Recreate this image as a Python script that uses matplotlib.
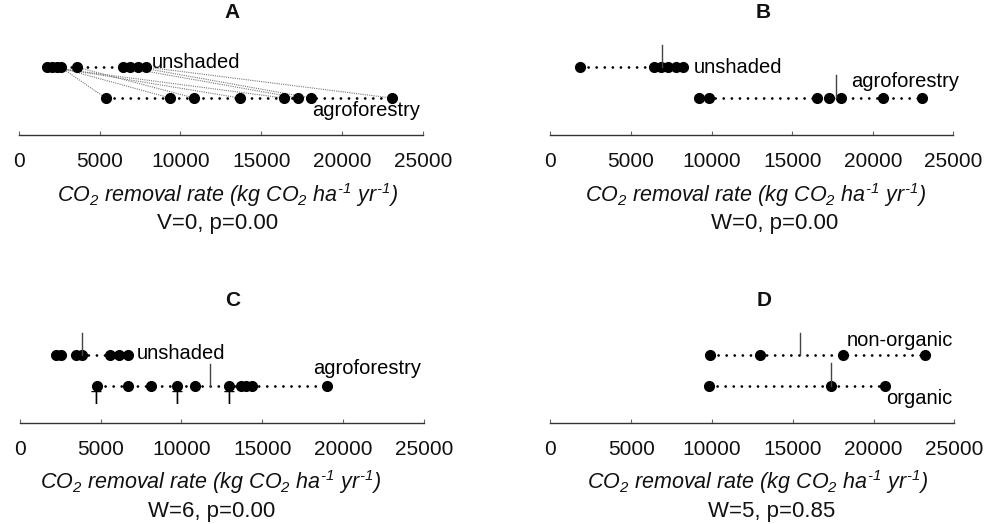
import matplotlib
matplotlib.use('Agg')
import matplotlib.pyplot as plt

plt.rcParams['font.family'] = ['Liberation Sans', 'DejaVu Sans']
plt.rcParams['mathtext.fontset'] = 'custom'
plt.rcParams['mathtext.it'] = 'Liberation Sans:italic'
plt.rcParams['mathtext.rm'] = 'Liberation Sans:italic'
plt.rcParams['mathtext.default'] = 'it'

# values (kg CO2 / ha / yr)
a_unshaded = [1770, 2080, 2390, 2590, 3580, 6460, 6910, 7360, 7900]
a_agro = [5370, 9380, 10860, 13700, 16420, 17280, 18090, 23090]
a_pair_from = [2590, 2390, 3580, 2080, 1770, 6460, 7360, 7900]
a_pair_to = [5370, 9380, 10860, 13700, 16420, 17280, 18090, 23090]

b_unshaded = [1840, 6450, 6870, 7280, 7800, 8250]
b_agro = [9240, 9860, 16520, 17270, 18030, 20660, 23060]
b_medians = [6950, 17720]

c_unshaded = [2230, 2580, 3470, 3820, 5590, 6110, 6680]
c_agro = [4750, 6700, 8090, 9730, 10830, 12950, 13660, 13990, 14340, 19020]
c_medians = [3880, 11800]
c_t_marks = [4750, 9730, 12950]

d_nonorganic = [9900, 12990, 18090, 23200]
d_organic = [9840, 17390, 20730]
d_medians = [15470, 17390]

stat_labels = ['V=0, p=0.00', 'W=0, p=0.00', 'W=6, p=0.00', 'W=5, p=0.85']
panel_names = ['A', 'B', 'C', 'D']
ticks = [0, 5000, 10000, 15000, 20000, 25000]
xlabel = (r'$CO_2\ removal\ rate\ (kg\ CO_2\ ha^{' + '\u2010' + r'1}\ yr^{'
          + '\u2010' + r'1})$')

fig = plt.figure(figsize=(9.88, 5.24), dpi=100)
ax_a = fig.add_axes([0.019, 0.742, 0.409, 0.189])
ax_b = fig.add_axes([0.557, 0.742, 0.408, 0.189])
ax_c = fig.add_axes([0.020, 0.193, 0.409, 0.189])
ax_d = fig.add_axes([0.557, 0.193, 0.409, 0.189])
axes = [ax_a, ax_b, ax_c, ax_d]

stat_x = [0.491, 0.556, 0.475, 0.547]
label_x = [0.516, 0.509, 0.473, 0.512]

DOTS = (0, (0.01, 2.9))


def draw_row(ax, values, y):
    ax.plot([min(values), max(values)], [y, y], color='black', lw=2.0,
            linestyle=DOTS, dash_capstyle='round', zorder=2)
    ax.plot(values, [y] * len(values), 'o', color='black', ms=7, zorder=3)


def draw_median(ax, x, y, height=0.7):
    ax.plot([x, x], [y, y + height], color='#444444', lw=1.0, zorder=4)


for i, ax in enumerate(axes):
    ax.set_xlim(0, 25000)
    ax.set_ylim(-1.2, 2.0)
    for side in ['top', 'left', 'right']:
        ax.spines[side].set_visible(False)
    ax.spines['bottom'].set_color('#333333')
    ax.spines['bottom'].set_linewidth(1.0)
    ax.set_yticks([])
    ax.set_xticks(ticks)
    ax.set_xticklabels([str(t) for t in ticks])
    ax.tick_params(axis='x', direction='in', length=3, width=0.8,
                   color='#666666', labelsize=15, pad=12, labelcolor='#111111')
    ax.text(label_x[i], -0.6, xlabel, transform=ax.transAxes, ha='center',
            va='center', fontsize=15.5, color='#111111')
    ax.text(stat_x[i], -0.89, stat_labels[i], transform=ax.transAxes,
            ha='center', va='center', fontsize=16, color='#111111')
    ax.text(0.528, 1.24, panel_names[i], transform=ax.transAxes, ha='center',
            va='center', fontsize=15, fontweight='bold', color='#111111')

# A: paired comparison
for u, g in zip(a_pair_from, a_pair_to):
    ax_a.plot([u, g], [1, 0], color='#777777', lw=0.8,
              linestyle=(0, (1, 1)), zorder=1)
draw_row(ax_a, a_unshaded, 1)
draw_row(ax_a, a_agro, 0)
ax_a.text(8250, 1.15, 'unshaded', fontsize=14.5, ha='left', va='center')
ax_a.text(24800, -0.4, 'agroforestry', fontsize=14.5, ha='right', va='center')

# B
draw_row(ax_b, b_unshaded, 1)
draw_row(ax_b, b_agro, 0)
draw_median(ax_b, b_medians[0], 1)
draw_median(ax_b, b_medians[1], 0, 0.75)
ax_b.text(8870, 1.0, 'unshaded', fontsize=14.5, ha='left', va='center')
ax_b.text(25370, 0.55, 'agroforestry', fontsize=14.5, ha='right', va='center')

# C
draw_row(ax_c, c_unshaded, 1)
draw_row(ax_c, c_agro, 0)
draw_median(ax_c, c_medians[0], 1)
draw_median(ax_c, c_medians[1], 0)
ax_c.text(7220, 1.03, 'unshaded', fontsize=14.5, ha='left', va='center')
ax_c.text(24860, 0.55, 'agroforestry', fontsize=14.5, ha='right', va='center')
for t in c_t_marks:
    ax_c.text(t, -0.45, 'T', fontsize=13, ha='center', va='center')

# D
draw_row(ax_d, d_nonorganic, 1)
draw_row(ax_d, d_organic, 0)
draw_median(ax_d, d_medians[0], 1)
draw_median(ax_d, d_medians[1], 0, 0.75)
ax_d.text(24940, 1.45, 'non-organic', fontsize=14.5, ha='right', va='center')
ax_d.text(24880, -0.42, 'organic', fontsize=14.5, ha='right', va='center')

fig.savefig('out.png', dpi=100)
